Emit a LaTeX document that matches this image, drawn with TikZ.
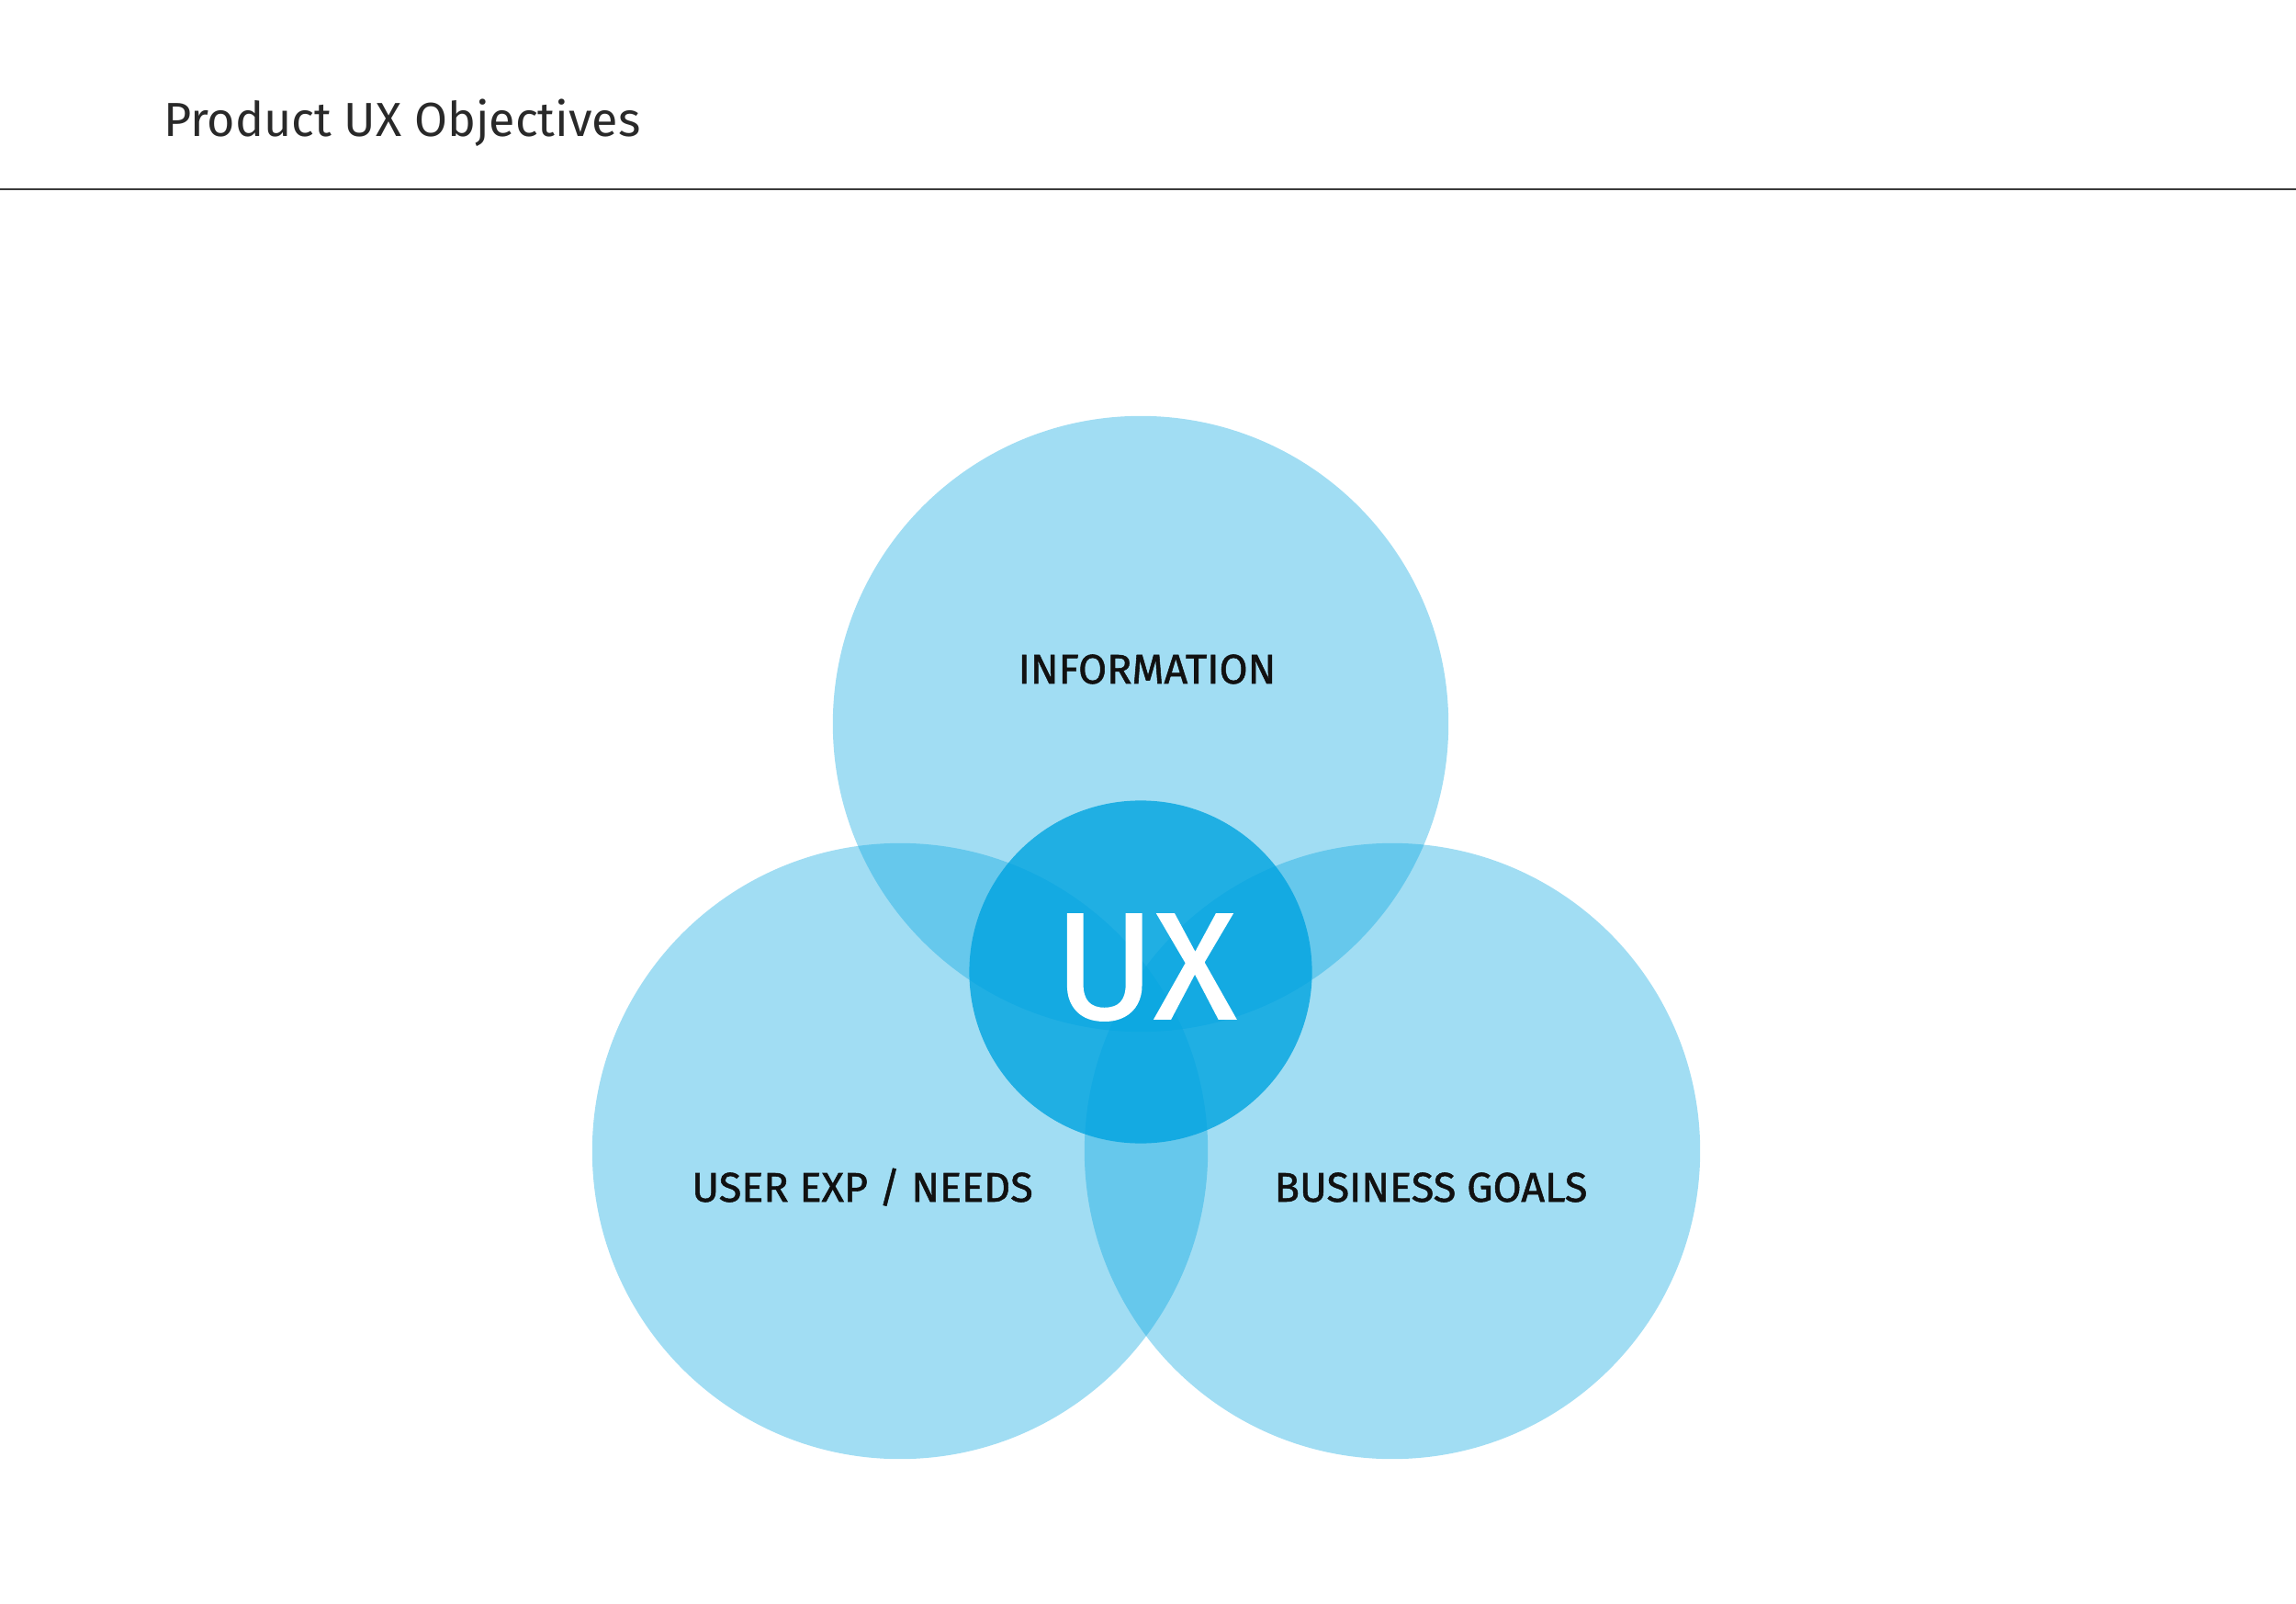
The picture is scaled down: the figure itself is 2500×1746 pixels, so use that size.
\documentclass[tikz,border=0pt]{standalone}
\usepackage{fontspec}
\setmainfont{Fira Sans}
\newfontfamily\namefont{Fira Sans}[FakeBold=1.2]
\usetikzlibrary{positioning}
\definecolor{ux-blue}{HTML}{00A3DF}
\definecolor{ux-text}{HTML}{111111}
\definecolor{ux-rule}{HTML}{3A3A3A}
\tikzset{basic/.style={inner sep=0pt,outer sep=0pt}}
\tikzset{area/.style={basic,circle,fill=ux-blue,fill opacity=0.37,minimum size=6.7cm}}

\begin{document}
\begin{tikzpicture}[
    x=0.01cm, y=-0.01cm,
    font=\normalsize
  ]

  % Styles for the diagram
  \tikzset{
    core/.style={basic, circle, fill=ux-blue, fill opacity=0.8, minimum size=3.73cm},
    areaname/.style={basic, anchor=base, text=ux-text, font=\namefont\fontsize{12.8pt}{15pt}\selectfont},
    heading/.style={basic, anchor=base west, text=ux-text!90, font=\fontsize{14.8pt}{18pt}\selectfont}
  }

  \useasboundingbox (0,0) rectangle (2500,1746);

  % Page heading and rule
  \node (title) [heading] at (178,149) {Product UX Objectives};
  \coordinate (ruleL) at (0,206);
  \coordinate (ruleR) at (2500,206);
  \draw[ux-rule, line width=0.6pt] (ruleL) -- (ruleR);

  % The three objective areas
  \node (info)     [area] at (1242,788)  {};
  \node (user)     [area] at (980,1253)  {};
  \node (business) [area] at (1516,1253) {};

  % Overlap in the middle
  \node (ux) [core] at (1242,1058) {};

  % Names
  \node (infoname)     [areaname] at (1249,744)  {INFORMATION};
  \node (username)     [areaname] at (939,1308)  {USER EXP / NEEDS};
  \node (businessname) [areaname] at (1558,1308) {BUSINESS GOALS};
  \node (uxname) [basic, anchor=base, text=white, font=\namefont\fontsize{47pt}{50pt}\selectfont] at (1247,1109) {UX};

\end{tikzpicture}
\end{document}
